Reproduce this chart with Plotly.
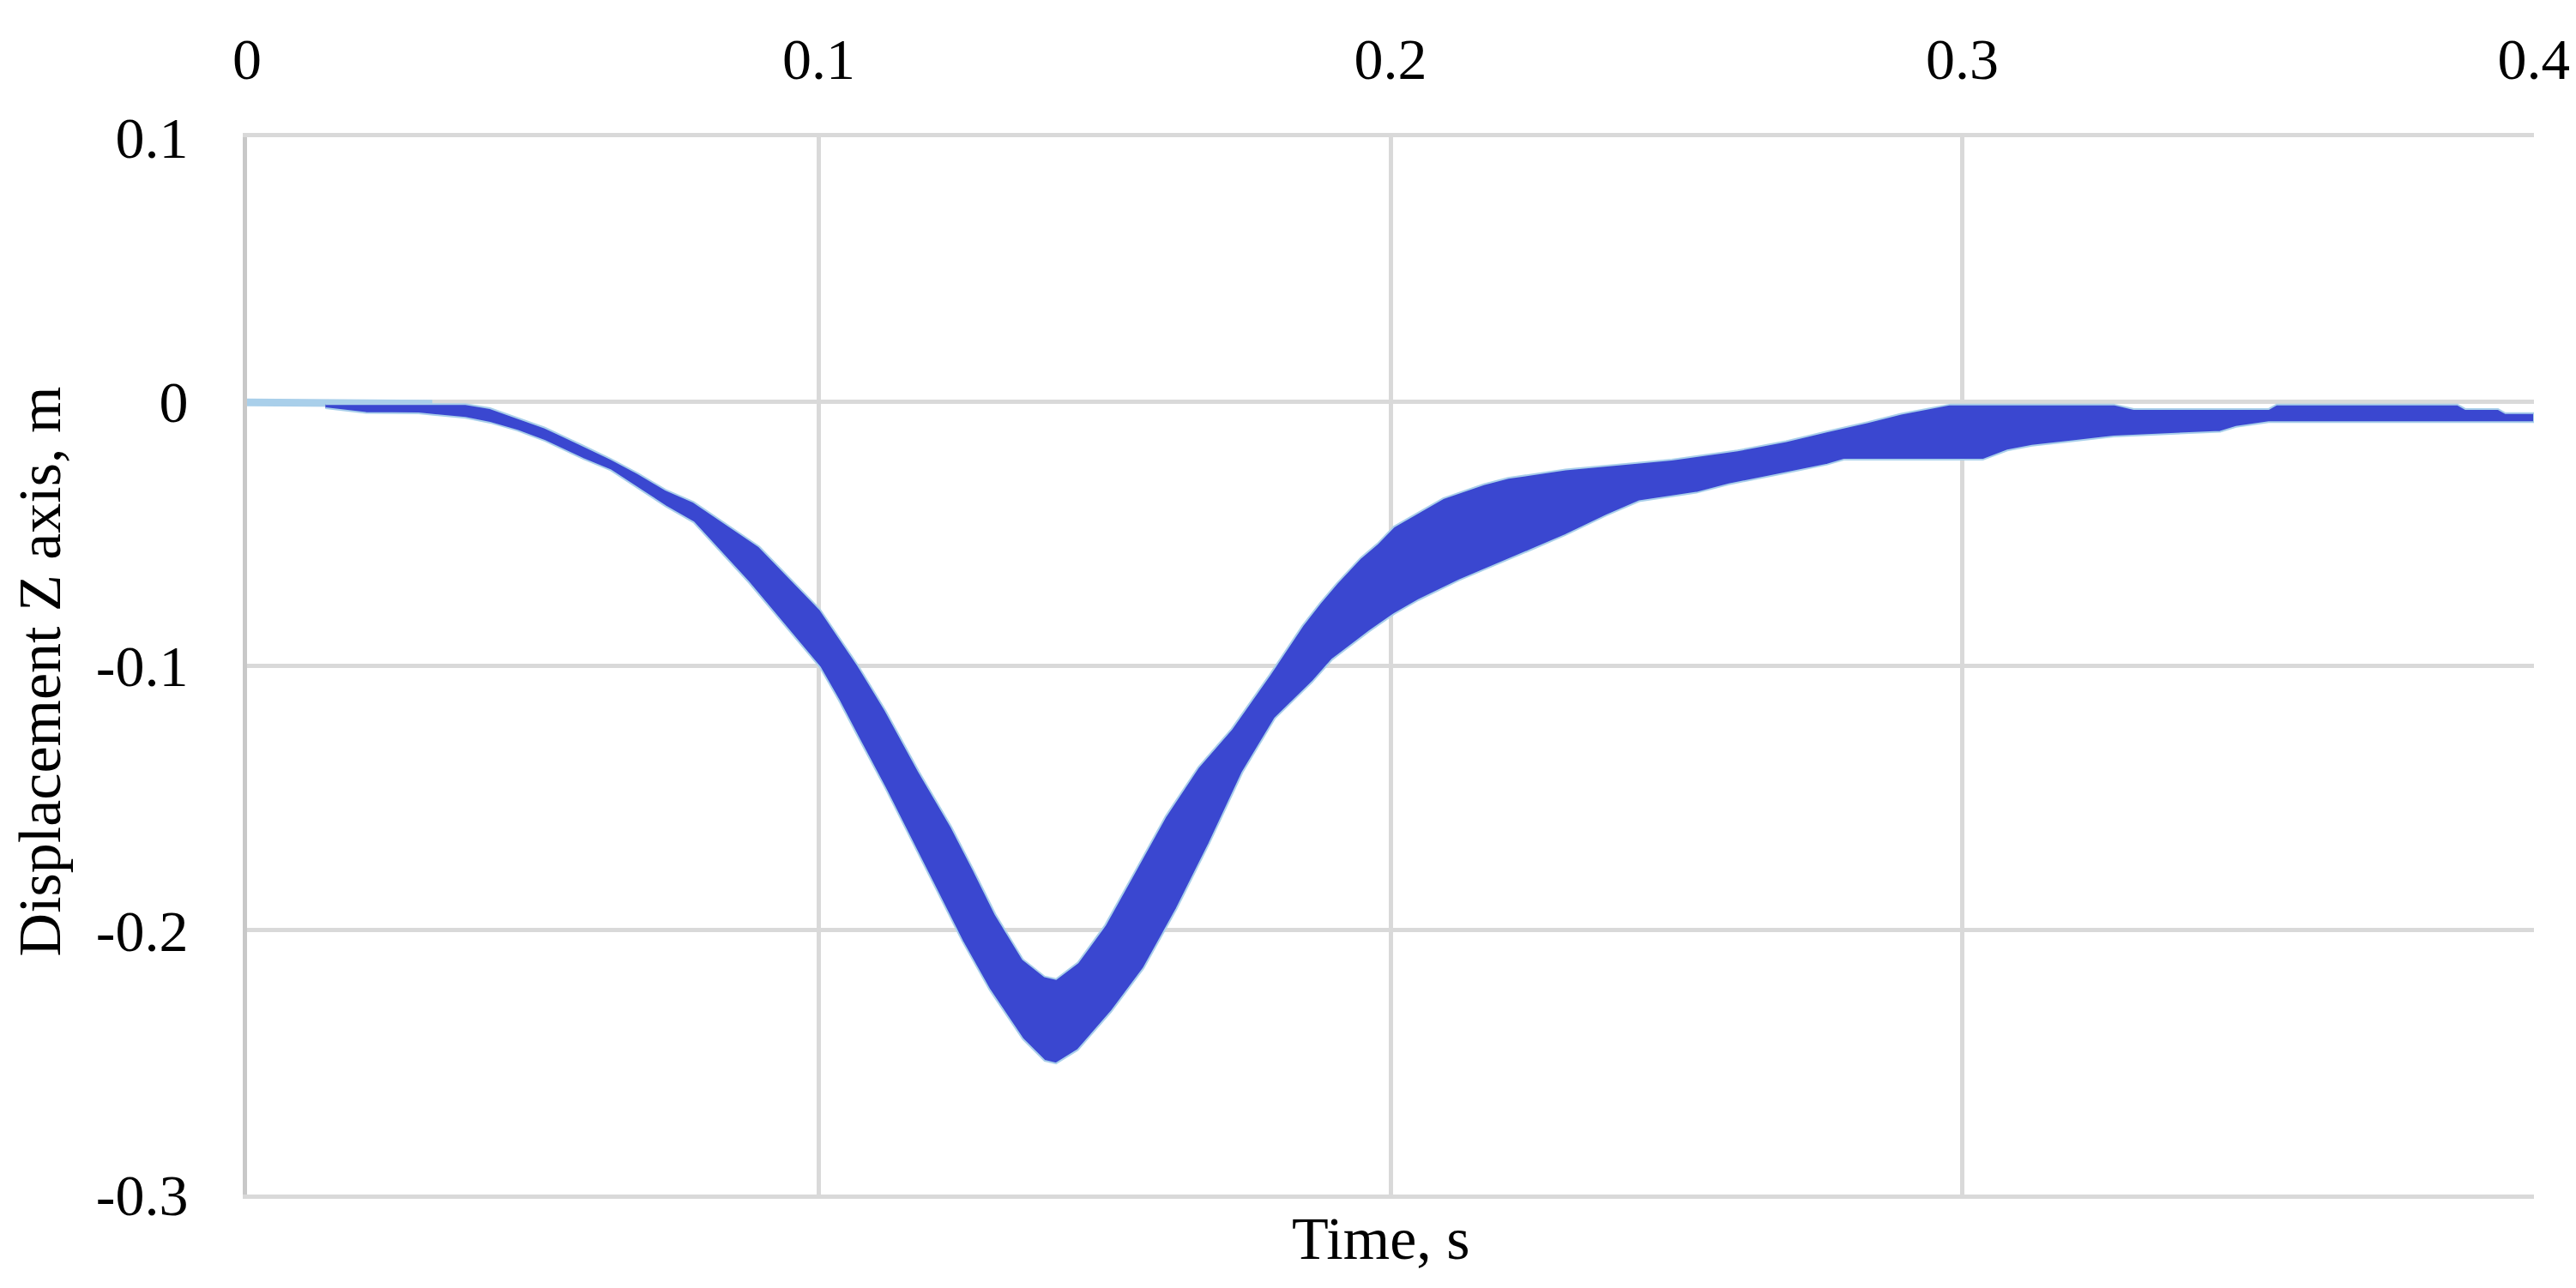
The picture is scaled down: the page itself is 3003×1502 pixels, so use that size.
import plotly.graph_objects as go

# ---- data (time in s, displacement in m) ----
upper_t = [0.0137, 0.0382, 0.0425, 0.0473, 0.0521, 0.0588, 0.0636, 0.0684, 0.0732, 0.0781,
           0.0896, 0.1002, 0.1069, 0.1117, 0.1175, 0.1232, 0.1271, 0.1309, 0.1357, 0.1395,
           0.1415, 0.1453, 0.1501, 0.1549, 0.1607, 0.1664, 0.1722, 0.1789, 0.1846, 0.1877,
           0.1906, 0.1948, 0.1977, 0.2006, 0.2049, 0.2092, 0.2163, 0.2206, 0.2306, 0.2406,
           0.2492, 0.2607, 0.2692, 0.2764, 0.2835, 0.2893, 0.2979, 0.3265, 0.3300, 0.3536,
           0.3550, 0.3866, 0.3880, 0.3937, 0.3950, 0.4000]
upper_v = [-0.0010, -0.0010, -0.0025, -0.0062, -0.0099, -0.0167, -0.0217, -0.0272, -0.0334, -0.0380,
           -0.0549, -0.0786, -0.1000, -0.1170, -0.1400, -0.1610, -0.1774, -0.1940, -0.2110, -0.2175,
           -0.2185, -0.2123, -0.1980, -0.1794, -0.1568, -0.1383, -0.1239, -0.1033, -0.0848, -0.0762,
           -0.0688, -0.0591, -0.0538, -0.0473, -0.0420, -0.0366, -0.0313, -0.0289, -0.0257, -0.0238,
           -0.0220, -0.0185, -0.0150, -0.0113, -0.0078, -0.0046, -0.0011, -0.0011, -0.0028, -0.0028,
           -0.0011, -0.0011, -0.0028, -0.0028, -0.0044, -0.0044]

lower_t = [0.0137, 0.0208, 0.0300, 0.0382, 0.0425, 0.0473, 0.0521, 0.0588, 0.0636, 0.0684,
           0.0732, 0.0781, 0.0877, 0.0954, 0.1002, 0.1035, 0.1069, 0.1117, 0.1165, 0.1203, 0.1251,
           0.1299, 0.1357, 0.1395, 0.1415, 0.1453, 0.1511, 0.1568, 0.1626, 0.1683, 0.1741,
           0.1798, 0.1863, 0.1898, 0.1963, 0.2006, 0.2049, 0.2120, 0.2177, 0.2249, 0.2306,
           0.2378, 0.2435, 0.2535, 0.2592, 0.2692, 0.2764, 0.2793, 0.3036, 0.3079, 0.3122,
           0.3193, 0.3265, 0.3451, 0.3479, 0.3536, 0.4000]
lower_v = [-0.0025, -0.0043, -0.0045, -0.0062, -0.0080, -0.0110, -0.0149, -0.0217, -0.0260, -0.0328,
           -0.0396, -0.0457, -0.0683, -0.0880, -0.1005, -0.1130, -0.1270, -0.1465, -0.1671, -0.1835, -0.2041,
           -0.2226, -0.2412, -0.2494, -0.2504, -0.2453, -0.2309, -0.2144, -0.1918, -0.1671, -0.1403,
           -0.1198, -0.1061, -0.0976, -0.0869, -0.0804, -0.0751, -0.0676, -0.0623, -0.0558, -0.0505,
           -0.0430, -0.0377, -0.0345, -0.0313, -0.0270, -0.0238, -0.0220, -0.0220, -0.0185, -0.0167,
           -0.0150, -0.0132, -0.0114, -0.0096, -0.0078, -0.0078]

light_t = [0.0, 0.0137, 0.0276, 0.0324]
light_v = [-0.0003, -0.0005, -0.0008, -0.0008]

x_ticks = [0, 0.1, 0.2, 0.3, 0.4]
x_ticktext = ["0", "0.1", "0.2", "0.3", "0.4"]
y_ticks = [0.1, 0, -0.1, -0.2, -0.3]
y_ticktext = ["0.1", "0", "-0.1", "-0.2", "-0.3"]

DARK = "#3a47d0"
LIGHT = "#a9cfea"
GRID = "#d9d9d9"
FONT = "Liberation Serif"

fig = go.Figure()
fig.add_trace(go.Scatter(x=light_t, y=light_v, mode="lines",
                         line=dict(color=LIGHT, width=9), showlegend=False, hoverinfo="skip"))
fig.add_trace(go.Scatter(x=upper_t + lower_t[::-1], y=upper_v + lower_v[::-1],
                         mode="lines", fill="toself", fillcolor=DARK,
                         line=dict(color=LIGHT, width=2), showlegend=False, hoverinfo="skip"))

fig.update_layout(
    width=3003, height=1502,
    margin=dict(l=280, r=57, t=152, b=117),
    paper_bgcolor="white", plot_bgcolor="white",
    font=dict(family=FONT, size=68, color="black"),
    showlegend=False,
    annotations=[
        dict(text="Time, s", x=0.4957, y=-0.042, xref="paper", yref="paper",
             xanchor="center", yanchor="middle", showarrow=False,
             font=dict(family=FONT, size=70, color="black")),
        dict(text="Displacement Z axis, m", x=-0.0905, y=0.495, xref="paper", yref="paper",
             xanchor="center", yanchor="middle", showarrow=False, textangle=-90,
             font=dict(family=FONT, size=70, color="black")),
    ],
)
fig.update_xaxes(range=[0, 0.4], side="top", tickvals=x_ticks, ticktext=x_ticktext,
                 showgrid=True, gridcolor=GRID, gridwidth=5, zeroline=False,
                 showline=True, linecolor=GRID, linewidth=5, mirror=True,
                 ticks="", ticklabelstandoff=36, tickfont=dict(family=FONT, size=68))
fig.update_yaxes(range=[-0.3, 0.1], tickvals=y_ticks, ticktext=y_ticktext,
                 showgrid=True, gridcolor=GRID, gridwidth=5, zeroline=False,
                 showline=True, linecolor="#c8c8c8", linewidth=5, mirror=False,
                 ticks="", ticklabelstandoff=50, tickfont=dict(family=FONT, size=68))

fig.write_html("out.html")
